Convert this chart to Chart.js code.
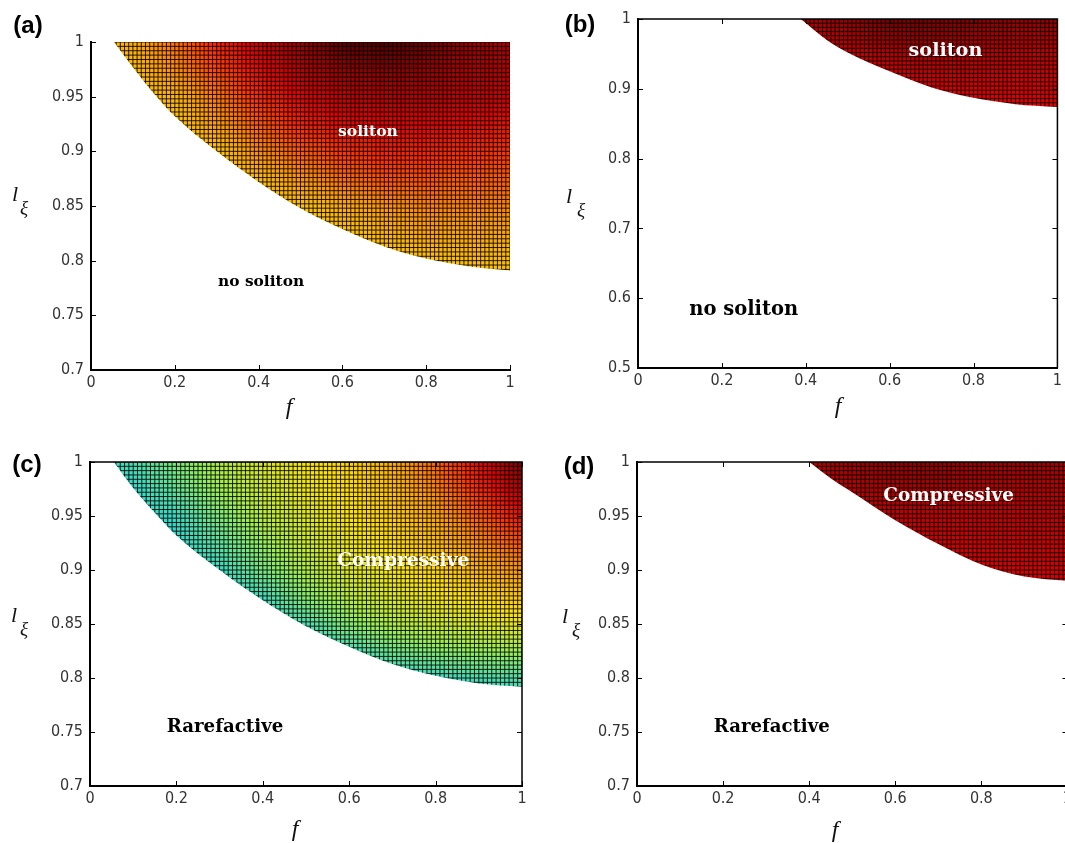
<!DOCTYPE html>
<html>
<head>
<meta charset="utf-8">
<title>soliton regions</title>
<script src="https://cdn.jsdelivr.net/npm/chart.js@4.4.1/dist/chart.umd.min.js"></script>
<style>
  html, body { margin: 0; padding: 0; background: #fff; }
  body { position: relative; width: 1065px; height: 843px; overflow: hidden; }
  .panel { position: absolute; }
</style>
</head>
<body>
<div class="panel" id="box-a"><canvas id="chart-a"></canvas></div>
<div class="panel" id="box-b"><canvas id="chart-b"></canvas></div>
<div class="panel" id="box-c"><canvas id="chart-c"></canvas></div>
<div class="panel" id="box-d"><canvas id="chart-d"></canvas></div>
<script>
// ===== values =====

const fTicks = [0, 0.2, 0.4, 0.6, 0.8, 1];
const lTicksShort = [0.7, 0.75, 0.8, 0.85, 0.9, 0.95, 1];
const lTicksLong = [0.5, 0.6, 0.7, 0.8, 0.9, 1];

// f columns where the colour level was sampled
const fSamples = [0, 0.1, 0.2, 0.3, 0.4, 0.5, 0.6, 0.7, 0.8, 0.9, 1];

// (a) boundary of the soliton region
const aBoundaryF = [0.055, 0.1, 0.15, 0.2, 0.3, 0.4, 0.5, 0.6, 0.7, 0.8, 0.9, 1];
const aBoundaryL = [1, 0.977, 0.953, 0.932, 0.9, 0.872, 0.848, 0.829, 0.813, 0.802, 0.795, 0.791];
const aLevelRows = [1, 0.975, 0.95, 0.925, 0.9, 0.875, 0.85, 0.825, 0.8, 0.775];
const aLevels = [
    [0.68, 0.69, 0.76, 0.84, 0.90, 0.95, 0.99, 1.00, 0.98, 0.95, 0.93],
    [0.66, 0.67, 0.73, 0.80, 0.87, 0.92, 0.95, 0.96, 0.95, 0.93, 0.92],
    [0.66, 0.66, 0.68, 0.75, 0.83, 0.88, 0.91, 0.92, 0.92, 0.91, 0.90],
    [0.66, 0.66, 0.66, 0.71, 0.78, 0.84, 0.87, 0.88, 0.88, 0.87, 0.86],
    [0.66, 0.66, 0.66, 0.66, 0.73, 0.78, 0.82, 0.84, 0.84, 0.83, 0.82],
    [0.66, 0.66, 0.66, 0.66, 0.67, 0.72, 0.76, 0.79, 0.79, 0.78, 0.78],
    [0.66, 0.66, 0.66, 0.66, 0.66, 0.66, 0.69, 0.72, 0.74, 0.74, 0.74],
    [0.66, 0.66, 0.66, 0.66, 0.66, 0.66, 0.66, 0.68, 0.70, 0.70, 0.70],
    [0.66, 0.66, 0.66, 0.66, 0.66, 0.66, 0.66, 0.66, 0.66, 0.67, 0.67],
    [0.66, 0.66, 0.66, 0.66, 0.66, 0.66, 0.66, 0.66, 0.66, 0.66, 0.66]
];

// (b)
const bBoundaryF = [0.388, 0.45, 0.5, 0.6, 0.7, 0.8, 0.9, 1];
const bBoundaryL = [1, 0.97, 0.952, 0.925, 0.902, 0.887, 0.878, 0.874];
const bLevelRows = [1, 0.975, 0.95, 0.925, 0.9, 0.875, 0.85];
const bLevels = [
    [0.93, 0.93, 0.93, 0.93, 0.93, 0.95, 0.97, 0.97, 0.96, 0.95, 0.95],
    [0.91, 0.91, 0.91, 0.91, 0.91, 0.93, 0.95, 0.95, 0.94, 0.93, 0.93],
    [0.90, 0.90, 0.90, 0.90, 0.90, 0.91, 0.92, 0.93, 0.92, 0.92, 0.91],
    [0.89, 0.89, 0.89, 0.89, 0.89, 0.89, 0.90, 0.91, 0.91, 0.90, 0.90],
    [0.88, 0.88, 0.88, 0.88, 0.88, 0.88, 0.88, 0.89, 0.89, 0.89, 0.89],
    [0.88, 0.88, 0.88, 0.88, 0.88, 0.88, 0.88, 0.88, 0.88, 0.88, 0.88],
    [0.88, 0.88, 0.88, 0.88, 0.88, 0.88, 0.88, 0.88, 0.88, 0.88, 0.88]
];

// (c)
const cBoundaryF = [0.055, 0.1, 0.15, 0.2, 0.3, 0.4, 0.5, 0.6, 0.7, 0.8, 0.9, 1];
const cBoundaryL = [1, 0.976, 0.953, 0.932, 0.9, 0.872, 0.848, 0.829, 0.813, 0.802, 0.795, 0.792];
const cLevelRows = [1, 0.975, 0.95, 0.925, 0.9, 0.875, 0.85, 0.825, 0.8, 0.775];
const cLevels = [
    [0.38, 0.41, 0.47, 0.53, 0.58, 0.61, 0.64, 0.69, 0.77, 0.87, 0.97],
    [0.38, 0.38, 0.44, 0.51, 0.56, 0.60, 0.63, 0.67, 0.74, 0.83, 0.92],
    [0.38, 0.38, 0.39, 0.47, 0.54, 0.58, 0.62, 0.65, 0.70, 0.78, 0.86],
    [0.38, 0.38, 0.38, 0.43, 0.50, 0.56, 0.60, 0.63, 0.67, 0.73, 0.79],
    [0.38, 0.38, 0.38, 0.39, 0.46, 0.53, 0.58, 0.61, 0.64, 0.68, 0.72],
    [0.38, 0.38, 0.38, 0.38, 0.40, 0.48, 0.54, 0.58, 0.61, 0.63, 0.66],
    [0.38, 0.38, 0.38, 0.38, 0.38, 0.41, 0.48, 0.53, 0.56, 0.58, 0.60],
    [0.38, 0.38, 0.38, 0.38, 0.38, 0.38, 0.40, 0.45, 0.48, 0.50, 0.51],
    [0.38, 0.38, 0.38, 0.38, 0.38, 0.38, 0.38, 0.38, 0.39, 0.41, 0.42],
    [0.38, 0.38, 0.38, 0.38, 0.38, 0.38, 0.38, 0.38, 0.38, 0.38, 0.38]
];

// (d)
const dBoundaryF = [0.4, 0.45, 0.5, 0.6, 0.7, 0.8, 0.9, 1];
const dBoundaryL = [1, 0.985, 0.972, 0.946, 0.924, 0.905, 0.894, 0.89];
const dLevelRows = [1, 0.975, 0.95, 0.925, 0.9, 0.875];
const dLevels = [
    [0.92, 0.92, 0.92, 0.92, 0.92, 0.94, 0.95, 0.95, 0.94, 0.94, 0.93],
    [0.91, 0.91, 0.91, 0.91, 0.91, 0.92, 0.93, 0.93, 0.92, 0.92, 0.92],
    [0.90, 0.90, 0.90, 0.90, 0.90, 0.90, 0.91, 0.91, 0.91, 0.91, 0.91],
    [0.89, 0.89, 0.89, 0.89, 0.89, 0.89, 0.89, 0.90, 0.90, 0.90, 0.90],
    [0.89, 0.89, 0.89, 0.89, 0.89, 0.89, 0.89, 0.89, 0.89, 0.89, 0.89],
    [0.89, 0.89, 0.89, 0.89, 0.89, 0.89, 0.89, 0.89, 0.89, 0.89, 0.89]
];


// ===== look =====

// jet-like colour map: [level, r, g, b]
const levelColours = [
    [0.30, 32, 176, 224],
    [0.38, 50, 215, 205],
    [0.50, 150, 240, 90],
    [0.62, 255, 228, 0],
    [0.72, 255, 150, 0],
    [0.82, 255, 50, 0],
    [0.88, 228, 0, 0],
    [0.95, 150, 0, 0],
    [1.00, 80, 0, 0]
];

const Y_AXIS_W = 50;
const X_AXIS_H = 30;
const CELL_F = 0.01;
const tickFont = { family: "'Liberation Sans Narrow', 'DejaVu Sans Condensed', 'Liberation Sans', sans-serif", size: 16 };
const noteFamily = "'DejaVu Serif', 'Liberation Serif', serif";

// page positions (pixels) of each panel and its plot area
const panels = {
    a: {
        box: { x: 0, y: 0, w: 530, h: 430 }, area: { l: 91, t: 42, r: 510, b: 370 },
        boundaryF: aBoundaryF, boundaryL: aBoundaryL, levelRows: aLevelRows, levels: aLevels,
        lMin: 0.7, lTicks: lTicksShort, cellL: 0.004, frame: false,
        letter: [28, 26], fTitle: [289, 408], lTitle: [15, 195], xiTitle: [24, 209],
        notes: [
            { text: "soliton", f: 0.661, l: 0.918, light: true, w: 60 },
            { text: "no soliton", f: 0.406, l: 0.7805, light: false, w: 86 }
        ]
    },
    b: {
        box: { x: 530, y: 0, w: 535, h: 430 }, area: { l: 638, t: 19, r: 1058, b: 368 },
        boundaryF: bBoundaryF, boundaryL: bBoundaryL, levelRows: bLevelRows, levels: bLevels,
        lMin: 0.5, lTicks: lTicksLong, cellL: 0.006, frame: true,
        letter: [580, 25], fTitle: [838, 407], lTitle: [569, 197], xiTitle: [581, 211],
        notes: [
            { text: "soliton", f: 0.733, l: 0.954, light: true, w: 74 },
            { text: "no soliton", f: 0.252, l: 0.583, light: false, w: 109 }
        ]
    },
    c: {
        box: { x: 0, y: 430, w: 530, h: 413 }, area: { l: 90, t: 462, r: 522, b: 786 },
        boundaryF: cBoundaryF, boundaryL: cBoundaryL, levelRows: cLevelRows, levels: cLevels,
        lMin: 0.7, lTicks: lTicksShort, cellL: 0.004, frame: true,
        letter: [27, 465], fTitle: [295, 830], lTitle: [14, 616], xiTitle: [24, 630],
        notes: [
            { text: "Compressive", f: 0.725, l: 0.908, light: true, w: 132 },
            { text: "Rarefactive", f: 0.3125, l: 0.754, light: false, w: 117 }
        ]
    },
    d: {
        box: { x: 530, y: 430, w: 545, h: 413 }, area: { l: 637, t: 462, r: 1068, b: 786 },
        boundaryF: dBoundaryF, boundaryL: dBoundaryL, levelRows: dLevelRows, levels: dLevels,
        lMin: 0.7, lTicks: lTicksShort, cellL: 0.004, frame: true,
        letter: [579, 467], fTitle: [835, 831], lTitle: [565, 617], xiTitle: [576, 631],
        notes: [
            { text: "Compressive", f: 0.724, l: 0.9685, light: true, w: 131 },
            { text: "Rarefactive", f: 0.313, l: 0.754, light: false, w: 116 }
        ]
    }
};

function levelToRgb(v) {
    if (v <= levelColours[0][0]) return levelColours[0].slice(1);
    for (let i = 1; i < levelColours.length; i++) {
        const hi = levelColours[i];
        if (v <= hi[0]) {
            const lo = levelColours[i - 1];
            const t = (v - lo[0]) / (hi[0] - lo[0]);
            return [1, 2, 3].map(k => Math.round(lo[k] + (hi[k] - lo[k]) * t));
        }
    }
    return levelColours[levelColours.length - 1].slice(1);
}

// shade between the sampled levels (bilinear, clamped at the edges)
function shadeAt(p, f, l) {
    const rows = p.levelRows;
    let c = 0;
    while (c < fSamples.length - 2 && f > fSamples[c + 1]) c++;
    let r = 0;
    while (r < rows.length - 2 && l < rows[r + 1]) r++;
    const tf = Math.min(1, Math.max(0, (f - fSamples[c]) / (fSamples[c + 1] - fSamples[c])));
    const tl = Math.min(1, Math.max(0, (rows[r] - l) / (rows[r] - rows[r + 1])));
    const top = p.levels[r][c] * (1 - tf) + p.levels[r][c + 1] * tf;
    const bot = p.levels[r + 1][c] * (1 - tf) + p.levels[r + 1][c + 1] * tf;
    return top * (1 - tl) + bot * tl;
}

function fmt(v) {
    return String(+Number(v).toFixed(2));
}

// flat coloured cells with black edges, laid out with the chart's own scales
function regionFill(chart, p) {
    if (!chart.chartArea || !chart.scales.x || !chart.scales.y) return "rgba(0,0,0,0)";
    const key = chart.width + "x" + chart.height;
    if (p.cache && p.cache.key === key) return p.cache.pattern;

    const xs = chart.scales.x;
    const ys = chart.scales.y;
    const area = chart.chartArea;

    const off = document.createElement("canvas");
    off.width = chart.width;
    off.height = chart.height;
    const g = off.getContext("2d");

    const nx = Math.round((xs.max - xs.min) / CELL_F);
    const ny = Math.round((ys.max - ys.min) / p.cellL);
    const colEdge = [];
    for (let i = 0; i <= nx; i++) colEdge.push(xs.getPixelForValue(xs.min + i * CELL_F));
    const rowEdge = [];
    for (let j = 0; j <= ny; j++) rowEdge.push(ys.getPixelForValue(ys.max - j * p.cellL));

    for (let i = 0; i < nx; i++) {
        const f = xs.min + (i + 0.5) * CELL_F;
        for (let j = 0; j < ny; j++) {
            const l = ys.max - (j + 0.5) * p.cellL;
            const rgb = levelToRgb(shadeAt(p, f, l));
            g.fillStyle = "rgb(" + rgb[0] + "," + rgb[1] + "," + rgb[2] + ")";
            g.fillRect(colEdge[i] - 0.3, rowEdge[j] - 0.3, colEdge[i + 1] - colEdge[i] + 0.6, rowEdge[j + 1] - rowEdge[j] + 0.6);
        }
    }

    g.strokeStyle = "rgba(0,0,0,0.85)";
    g.lineWidth = 1;
    g.beginPath();
    colEdge.forEach(px => {
        g.moveTo(px, area.top);
        g.lineTo(px, area.bottom);
    });
    rowEdge.forEach(py => {
        g.moveTo(area.left, py);
        g.lineTo(area.right, py);
    });
    g.stroke();

    const pattern = chart.ctx.createPattern(off, "no-repeat");
    p.cache = { key: key, pattern: pattern };
    return pattern;
}

function panelOf(chart) {
    return panels[chart.canvas.id.replace("chart-", "")];
}

// inward tick marks and the box, matlab style
const framePlugin = {
    id: "frame",
    afterDatasetsDraw(chart) {
        const p = panelOf(chart);
        const { ctx, chartArea: a } = chart;
        const xs = chart.scales.x;
        const ys = chart.scales.y;
        ctx.save();
        ctx.strokeStyle = "#000";
        ctx.lineWidth = 1;
        ctx.beginPath();
        fTicks.forEach(v => {
            const px = Math.round(xs.getPixelForValue(v)) + 0.5;
            ctx.moveTo(px, a.bottom);
            ctx.lineTo(px, a.bottom - 5);
            if (p.frame) {
                ctx.moveTo(px, a.top);
                ctx.lineTo(px, a.top + 5);
            }
        });
        p.lTicks.forEach(v => {
            const py = Math.round(ys.getPixelForValue(v)) + 0.5;
            ctx.moveTo(a.left, py);
            ctx.lineTo(a.left + 5, py);
            if (p.frame) {
                ctx.moveTo(a.right, py);
                ctx.lineTo(a.right - 5, py);
            }
        });
        ctx.stroke();
        if (p.frame) {
            ctx.lineWidth = 1.5;
            ctx.beginPath();
            ctx.moveTo(a.left, a.top);
            ctx.lineTo(a.right, a.top);
            ctx.lineTo(a.right, a.bottom);
            ctx.stroke();
        }
        ctx.restore();
    }
};

// panel letter, axis names and the region labels
const textPlugin = {
    id: "panelText",
    afterDraw(chart) {
        const p = panelOf(chart);
        const { ctx } = chart;
        const ox = p.box.x;
        const oy = p.box.y;
        ctx.save();
        ctx.textAlign = "center";
        ctx.textBaseline = "middle";

        ctx.fillStyle = "#000";
        ctx.font = "bold 24px 'Liberation Sans', Arial, sans-serif";
        ctx.fillText("(" + chart.canvas.id.replace("chart-", "") + ")", p.letter[0] - ox, p.letter[1] - oy);

        ctx.fillStyle = "#111";
        ctx.font = "italic 24px 'Liberation Serif', serif";
        ctx.fillText("f", p.fTitle[0] - ox, p.fTitle[1] - oy);
        ctx.font = "italic 22px 'Liberation Serif', serif";
        ctx.fillText("l", p.lTitle[0] - ox, p.lTitle[1] - oy);
        ctx.font = "italic 19px 'Liberation Serif', serif";
        ctx.fillText("\u03be", p.xiTitle[0] - ox, p.xiTitle[1] - oy);

        p.notes.forEach(n => {
            ctx.font = "bold 20px " + noteFamily;
            const size = 20 * n.w / ctx.measureText(n.text).width;
            ctx.font = "bold " + size.toFixed(1) + "px " + noteFamily;
            ctx.fillStyle = n.light ? "#fff" : "#000";
            ctx.fillText(n.text, chart.scales.x.getPixelForValue(n.f), chart.scales.y.getPixelForValue(n.l));
        });
        ctx.restore();
    }
};

function buildPanel(id) {
    const p = panels[id];
    const holder = document.getElementById("box-" + id);
    holder.style.left = p.box.x + "px";
    holder.style.top = p.box.y + "px";
    holder.style.width = p.box.w + "px";
    holder.style.height = p.box.h + "px";

    const pad = {
        left: p.area.l - p.box.x - Y_AXIS_W,
        top: p.area.t - p.box.y,
        right: p.box.x + p.box.w - p.area.r,
        bottom: p.box.y + p.box.h - p.area.b - X_AXIS_H
    };

    return new Chart(document.getElementById("chart-" + id), {
        type: "line",
        data: {
            datasets: [{
                data: p.boundaryF.map((f, i) => ({ x: f, y: p.boundaryL[i] })),
                fill: "end",
                backgroundColor: ctx => regionFill(ctx.chart, p),
                borderColor: "rgba(0,0,0,0)",
                borderWidth: 0,
                pointRadius: 0,
                cubicInterpolationMode: "monotone"
            }]
        },
        options: {
            responsive: true,
            maintainAspectRatio: false,
            animation: false,
            events: [],
            layout: { padding: pad },
            plugins: {
                legend: { display: false },
                tooltip: { enabled: false }
            },
            scales: {
                x: {
                    type: "linear",
                    min: 0,
                    max: 1,
                    afterFit: s => { s.height = X_AXIS_H; },
                    afterBuildTicks: s => { s.ticks = fTicks.map(v => ({ value: v })); },
                    grid: { display: false, drawTicks: false },
                    border: { display: true, color: "#000", width: 2 },
                    ticks: {
                        font: tickFont,
                        color: "#333",
                        padding: 3,
                        maxRotation: 0,
                        autoSkip: false,
                        callback: v => fmt(v)
                    }
                },
                y: {
                    type: "linear",
                    min: p.lMin,
                    max: 1,
                    afterFit: s => { s.width = Y_AXIS_W; },
                    afterBuildTicks: s => { s.ticks = p.lTicks.map(v => ({ value: v })); },
                    grid: { display: false, drawTicks: false },
                    border: { display: true, color: "#000", width: 2 },
                    ticks: {
                        font: tickFont,
                        color: "#333",
                        padding: 7,
                        autoSkip: false,
                        callback: v => fmt(v)
                    }
                }
            }
        },
        plugins: [framePlugin, textPlugin]
    });
}

["a", "b", "c", "d"].forEach(buildPanel);
</script>
</body>
</html>
